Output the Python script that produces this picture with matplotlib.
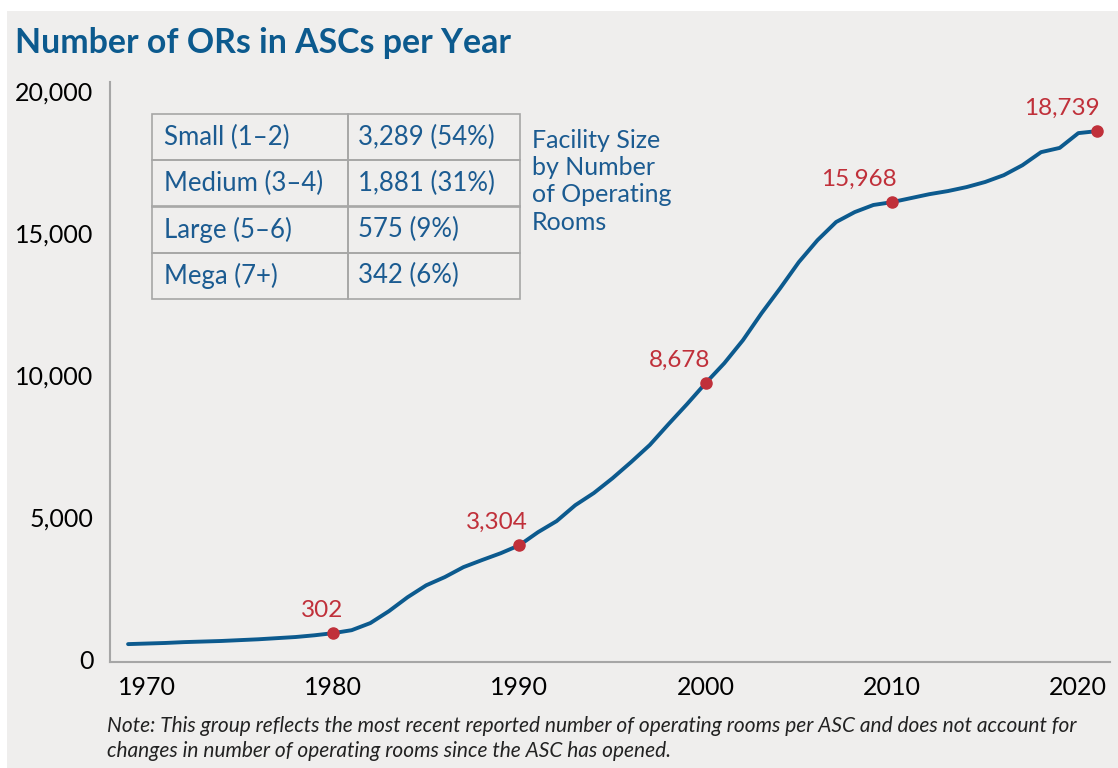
import matplotlib.pyplot as plt
from matplotlib.patches import Rectangle

# data
years = list(range(1969, 2022))
ors = [530, 550, 570, 600, 620, 640, 670, 700, 740, 780, 840, 915,
       1020, 1270, 1690, 2180, 2600, 2890, 3240, 3490, 3730, 4010,
       4470, 4860, 5420, 5850, 6370, 6940, 7540, 8270, 8980, 9720,
       10420, 11230, 12180, 13060, 13980, 14750, 15390, 15740, 15990, 16090,
       16230, 16370, 16480, 16620, 16800, 17040, 17390, 17850, 18000, 18520,
       18590]

marker_years = [1980, 1990, 2000, 2010, 2021]
marker_labels = ["302", "3,304", "8,678", "15,968", "18,739"]

size_classes = ["Small (1\u20132)", "Medium (3\u20134)", "Large (5\u20136)", "Mega (7+)"]
size_counts = ["3,289 (54%)", "1,881 (31%)", "575 (9%)", "342 (6%)"]

BLUE = "#0c5a8e"
TEXT_BLUE = "#1b5b91"
RED = "#c0303a"
BG = "#efeeed"
FONT = "Lato"

plt.rcParams['font.family'] = [FONT, 'DejaVu Sans']

fig = plt.figure(figsize=(11.18, 7.68), dpi=100, facecolor="white")
fig.patches.append(Rectangle((7 / 1118, 0), 1, 1 - 11 / 768, transform=fig.transFigure,
                             facecolor=BG, edgecolor="none", zorder=-5))

ax = fig.add_axes([110 / 1118, 1 - 662 / 768, 1000 / 1118, 580 / 768])
ax.patch.set_visible(False)

ax.plot(years, ors, color=BLUE, lw=2.8, solid_capstyle="round", zorder=3)

lookup = dict(zip(years, ors))
label_offsets = [(-8, 9), (-16.5, 9), (-19, 9), (-24, 9), (-25, 9)]
for yr, lab, off in zip(marker_years, marker_labels, label_offsets):
    v = lookup[yr]
    ax.plot(yr, v, "o", color=RED, ms=8, zorder=4)
    ax.annotate(lab, (yr, v), xytext=off, textcoords="offset points",
                ha="center", va="bottom", color=RED, fontsize=17.5)

ax.set_xlim(1968.03, 2021.7)
ax.set_ylim(-100, 20320)
ax.set_xticks([1970, 1980, 1990, 2000, 2010, 2020])
ax.set_yticks([0, 5000, 10000, 15000, 20000])
ax.set_yticklabels(["0", "5,000", "10,000", "15,000", "20,000"])
ax.tick_params(length=0, labelsize=18)
ax.tick_params(axis="y", pad=12)
ax.tick_params(axis="x", pad=10)
for s in ["top", "right"]:
    ax.spines[s].set_visible(False)
for s in ["left", "bottom"]:
    ax.spines[s].set_color("#a6a6a6")
    ax.spines[s].set_linewidth(1.5)

# size table
cells = [[c, n] for c, n in zip(size_classes, size_counts)]
tbl = ax.table(cellText=cells, cellLoc="left",
               bbox=[42 / 1000, (662 - 299) / 580, 368 / 1000, 185 / 580],
               colWidths=[196, 172])
tbl.auto_set_font_size(False)
tbl.set_fontsize(18.5)
for (r, c), cell in tbl.get_celld().items():
    cell.set_facecolor("none")
    cell.set_edgecolor("#a6a6a6")
    cell.set_linewidth(1.2)
    cell.get_text().set_color(TEXT_BLUE)
    cell.PAD = 0.06

fig.text(532 / 1118, 1 - 129 / 768, "Facility Size\nby Number\nof Operating\nRooms",
         color=TEXT_BLUE, fontsize=18, va="top", ha="left", linespacing=1.22)

fig.text(15 / 1118, 1 - 43 / 768, "Number of ORs in ASCs per Year", color=BLUE,
         fontsize=24.4, fontweight="bold", va="center", ha="left")

fig.text(107 / 1118, 1 - 716 / 768,
         "Note: This group reflects the most recent reported number of operating rooms per ASC and does not account for\n"
         "changes in number of operating rooms since the ASC has opened.",
         fontsize=15, style="italic", color="#222222", va="top", ha="left", linespacing=1.32)

fig.savefig("out.png", dpi=100, facecolor=fig.get_facecolor())
